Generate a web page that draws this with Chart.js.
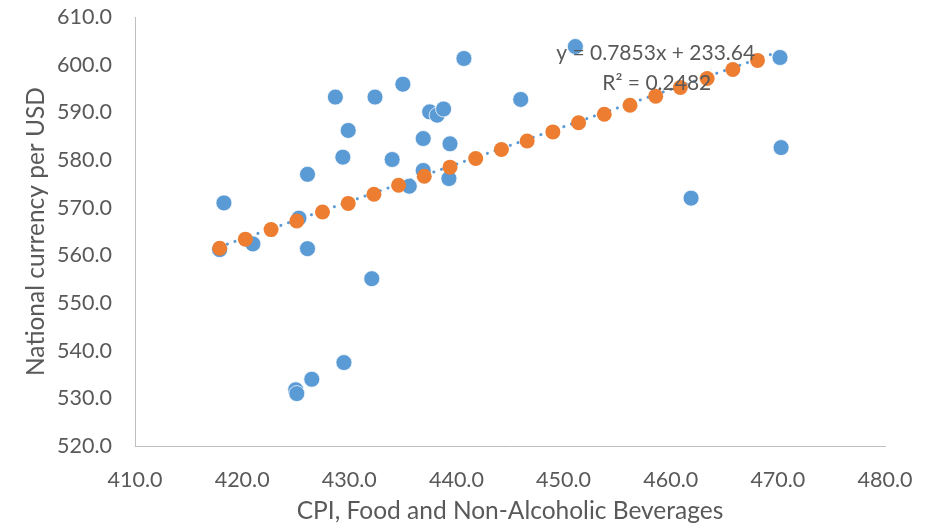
<!DOCTYPE html>
<html>
<head>
<meta charset="utf-8">
<script src="https://cdn.jsdelivr.net/npm/chart.js@4/dist/chart.umd.min.js"></script>
<style>
  html, body { margin: 0; padding: 0; background: #ffffff; }
  #wrap { width: 928px; height: 529px; position: relative; }
</style>
</head>
<body>
<div id="wrap"><canvas id="c" width="928" height="529"></canvas></div>
<script>
// Observed data (CPI, Food and Non-Alcoholic Beverages vs National currency per USD)
const cpiX = [440.7, 428.7, 432.4, 435.0, 446.0, 437.5, 438.2, 438.8, 429.9, 436.9,
              439.4, 429.4, 434.0, 436.9, 439.3, 435.6, 426.1, 418.3, 425.3, 421.0,
              417.9, 426.1, 432.1, 429.5, 426.5, 425.0, 425.1, 451.1, 470.2, 470.3, 461.9];
const fxY  = [601.3, 593.2, 593.2, 595.9, 592.7, 590.1, 589.4, 590.7, 586.2, 584.5,
              583.4, 580.6, 580.1, 577.8, 576.1, 574.5, 577.0, 571.0, 567.8, 562.4,
              561.2, 561.4, 555.1, 537.5, 534.0, 531.8, 531.0, 603.8, 601.5, 582.6, 572.0];

// Predicted series (orange)
const predX = [417.9, 420.3, 422.7, 425.1, 427.5, 429.9, 432.3, 434.6, 437.0, 439.4, 441.8,
               444.2, 446.6, 449.0, 451.4, 453.8, 456.2, 458.6, 460.9, 463.4, 465.8, 468.1];
const predY = [561.5, 563.4, 565.4, 567.2, 569.1, 570.9, 572.8, 574.7, 576.6, 578.5, 580.3,
               582.2, 584.0, 585.9, 587.8, 589.6, 591.5, 593.4, 595.2, 597.1, 599.0, 600.9];

// Linear trendline end points
const trendX = [417.9, 470.3];
const trendY = [561.8, 602.9];

// Axis settings
const xTicks = [410, 420, 430, 440, 450, 460, 470, 480];
const yTicks = [520, 530, 540, 550, 560, 570, 580, 590, 600, 610];
const equationLines = ['y = 0.7853x + 233.64', 'R\u00B2 = 0.2482'];
const xTitle = 'CPI, Food and Non-Alcoholic Beverages';
const yTitle = 'National currency per USD';

const toPts = (xs, ys) => xs.map((x, i) => ({ x: x, y: ys[i] }));

const FONT = 'Lato, "Open Sans", sans-serif';
const TEXT = '#595959';

const equationPlugin = {
  id: 'equation',
  afterDatasetsDraw(chart) {
    const ctx = chart.ctx;
    const xs = chart.scales.x, ys = chart.scales.y;
    ctx.save();
    ctx.font = '21px ' + FONT;
    ctx.fillStyle = TEXT;
    ctx.textAlign = 'center';
    ctx.textBaseline = 'middle';
    ctx.fillText(equationLines[0], xs.getPixelForValue(458.6), ys.getPixelForValue(602.4));
    ctx.fillText(equationLines[1], xs.getPixelForValue(458.7), ys.getPixelForValue(596.1));
    ctx.restore();
  }
};

new Chart(document.getElementById('c'), {
  type: 'scatter',
  data: {
    datasets: [
      {
        label: 'Predicted',
        data: toPts(predX, predY),
        backgroundColor: '#ED7D31',
        borderColor: '#ED7D31',
        borderWidth: 0,
        pointRadius: 7.5,
        order: 1
      },
      {
        label: 'Linear trend',
        type: 'line',
        data: toPts(trendX, trendY),
        borderColor: '#5B9BD5',
        borderWidth: 3,
        borderDash: [0.1, 8],
        borderCapStyle: 'round',
        pointRadius: 0,
        fill: false,
        tension: 0,
        order: 2
      },
      {
        label: 'National currency per USD',
        data: toPts(cpiX, fxY),
        backgroundColor: '#5B9BD5',
        borderColor: '#ffffff',
        borderWidth: 0.75,
        pointRadius: 8,
        order: 3
      }
    ]
  },
  options: {
    responsive: false,
    animation: false,
    events: [],
    layout: { padding: { top: 17, right: 43, left: 0, bottom: 0 } },
    plugins: {
      legend: { display: false },
      tooltip: { enabled: false }
    },
    scales: {
      x: {
        type: 'linear',
        min: xTicks[0],
        max: xTicks[xTicks.length - 1],
        afterBuildTicks: (s) => { s.ticks = xTicks.map(v => ({ value: v })); },
        afterFit: (s) => { s.height = 83; s.paddingLeft = 0; s.paddingRight = 0; },
        grid: { display: false, drawTicks: false },
        border: { display: true, color: '#BFBFBF', width: 1 },
        ticks: {
          padding: 21,
          color: TEXT,
          font: { family: FONT, size: 21.5 },
          callback: (v) => Number(v).toFixed(1)
        },
        title: {
          display: true,
          text: xTitle,
          color: TEXT,
          font: { family: FONT, size: 24.5 },
          padding: { top: 0, bottom: 3 }
        }
      },
      y: {
        type: 'linear',
        min: yTicks[0],
        max: yTicks[yTicks.length - 1],
        afterBuildTicks: (s) => { s.ticks = yTicks.map(v => ({ value: v })); },
        afterFit: (s) => { s.width = 135; s.paddingTop = 0; s.paddingBottom = 0; },
        grid: { display: false, drawTicks: false },
        border: { display: true, color: '#BFBFBF', width: 1 },
        ticks: {
          padding: 23,
          color: TEXT,
          font: { family: FONT, size: 21.5 },
          callback: (v) => Number(v).toFixed(1)
        },
        title: {
          display: true,
          text: yTitle,
          color: TEXT,
          font: { family: FONT, size: 24.5 },
          padding: { top: 21, bottom: 0 }
        }
      }
    }
  },
  plugins: [equationPlugin]
});
</script>
</body>
</html>
